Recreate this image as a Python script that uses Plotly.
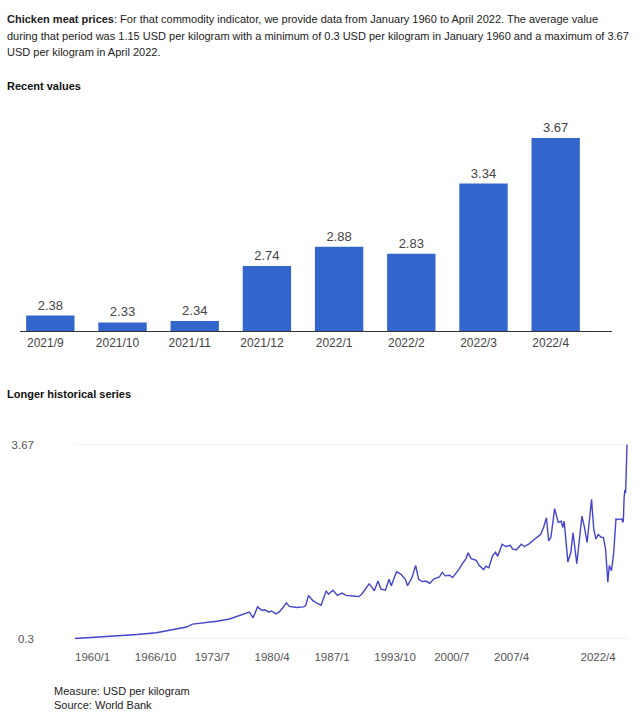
import plotly.graph_objects as go

# recent monthly values (bar chart)
recent_months = ['2021/9', '2021/10', '2021/11', '2021/12', '2022/1', '2022/2', '2022/3', '2022/4']
recent_values = [2.38, 2.33, 2.34, 2.74, 2.88, 2.83, 3.34, 3.67]

# longer historical series (USD per kilogram)
hist_dates = ['1960-01', '1963-03', '1967-01', '1969-03', '1971-06', '1972-08', '1973-04', '1974-06',
              '1976-01', '1977-06', '1979-01', '1979-09', '1980-02', '1980-08', '1981-02', '1981-06',
              '1981-11', '1982-03', '1982-09', '1983-01', '1983-06', '1983-11', '1984-03', '1985-01',
              '1985-10', '1986-01', '1986-05', '1986-11', '1987-05', '1987-10', '1988-05', '1988-08',
              '1989-02', '1989-08', '1990-02', '1990-08', '1991-05', '1992-01', '1992-05', '1993-03',
              '1993-07', '1993-10', '1994-03', '1994-07', '1995-01', '1995-06', '1995-09', '1996-04',
              '1996-10', '1997-04', '1997-07', '1998-01', '1998-06', '1998-10', '1999-03', '1999-08',
              '2000-01', '2000-07', '2001-02', '2001-06', '2001-10', '2002-04', '2002-08', '2003-01',
              '2003-05', '2003-09', '2004-02', '2004-05', '2004-09', '2005-04', '2005-08', '2006-02',
              '2006-05', '2006-09', '2007-02', '2007-06', '2007-09', '2008-03', '2008-08', '2009-02',
              '2009-05', '2009-10', '2010-05', '2010-09', '2011-04', '2012-02', '2012-07', '2012-11',
              '2013-03', '2013-06', '2013-09', '2014-02', '2014-07', '2014-11', '2015-01', '2015-03',
              '2015-08', '2015-12', '2016-03', '2016-08', '2017-03', '2017-06', '2017-10', '2018-04',
              '2018-07', '2018-10', '2019-01', '2019-05', '2019-08', '2019-11', '2020-02', '2020-04',
              '2020-07', '2020-10', '2021-01', '2021-03', '2021-06',
              '2021-09', '2021-10', '2021-11', '2021-12', '2022-01', '2022-02', '2022-03', '2022-04']
hist_values = [0.30, 0.33, 0.37, 0.40, 0.46, 0.50, 0.55, 0.57,
               0.60, 0.64, 0.72, 0.76, 0.66, 0.85, 0.79, 0.80,
               0.76, 0.78, 0.73, 0.76, 0.83, 0.92, 0.86, 0.84,
               0.85, 0.87, 1.05, 0.96, 0.91, 0.88, 1.13, 1.07,
               1.14, 1.05, 1.09, 1.05, 1.04, 1.03, 1.07, 1.25,
               1.19, 1.13, 1.30, 1.16, 1.14, 1.33, 1.22, 1.46,
               1.42, 1.33, 1.22, 1.36, 1.57, 1.33, 1.29, 1.30,
               1.26, 1.34, 1.37, 1.45, 1.39, 1.40, 1.36, 1.44,
               1.51, 1.60, 1.69, 1.79, 1.69, 1.66, 1.57, 1.50,
               1.56, 1.53, 1.74, 1.80, 1.73, 1.94, 1.90, 1.92,
               1.86, 1.84, 1.94, 1.90, 1.95, 2.06, 2.11, 2.23,
               2.40, 2.00, 2.06, 2.56, 2.32, 2.34, 2.23, 2.34,
               1.63, 1.80, 2.14, 1.60, 2.43, 2.26, 1.97, 2.72,
               2.20, 2.03, 2.11, 2.06, 2.06, 1.85, 1.28, 1.57,
               1.48, 1.80, 2.38, 2.37, 2.37,
               2.38, 2.33, 2.34, 2.74, 2.88, 2.83, 3.34, 3.67]

hist_tick_dates = ['1960-01-01', '1966-10-01', '1973-07-01', '1980-04-01', '1987-01-01',
                   '1993-10-01', '2000-07-01', '2007-04-01', '2017-01-01']
hist_tick_text = ['1960/1', '1966/10', '1973/7', '1980/4', '1987/1',
                  '1993/10', '2000/7', '2007/4', '2022/4']

W, H = 640, 716
FONT = 'Liberation Sans, Arial, sans-serif'


def px_y(y):
    return 1 - y / H


fig = go.Figure()

fig.add_trace(go.Bar(x=recent_months, y=recent_values,
                     marker=dict(color='#3366cc', line=dict(width=0)),
                     texttemplate='%{y:.2f}', textposition='outside',
                     textfont=dict(size=13, color='#444444'),
                     cliponaxis=False, xaxis='x', yaxis='y'))

fig.add_trace(go.Scatter(x=[d + '-01' for d in hist_dates], y=hist_values,
                         mode='lines', line=dict(color='#4444cc', width=1.4),
                         xaxis='x2', yaxis='y2'))

fig.update_layout(
    width=W, height=H,
    margin=dict(l=0, r=0, t=0, b=0),
    paper_bgcolor='white', plot_bgcolor='white',
    showlegend=False,
    font=dict(family=FONT, color='#222222'),
    bargap=0.33,
    xaxis=dict(type='category', domain=[20 / W, 612 / W], range=[-0.42, 7.78],
               showline=True, linecolor='#333333', linewidth=1, ticks='',
               showgrid=False, tickfont=dict(size=12, color='#444444'),
               ticklabelshift=-5, anchor='y'),
    yaxis=dict(domain=[px_y(331), px_y(120)], range=[2.265, 3.7775],
               showticklabels=False, showgrid=False, zeroline=False, anchor='x'),
    xaxis2=dict(type='date', domain=[75 / W, 628.5 / W], range=['1960-01-01', '2022-06-01'],
                tickvals=hist_tick_dates, ticktext=hist_tick_text,
                ticklabelposition='outside right', ticks='', showgrid=False,
                showline=False, zeroline=False, ticklabelstandoff=9,
                tickfont=dict(size=11.5, color='#555555'), anchor='y2'),
    yaxis2=dict(domain=[px_y(643.7), px_y(444.8)], range=[0.28, 3.69],
                tickvals=[0.3, 3.67], ticktext=['0.3', '3.67'],
                showgrid=True, gridcolor='#f0f0f0', zeroline=False,
                tickfont=dict(size=11.5, color='#555555'),
                ticklabelstandoff=40, anchor='x2'),
)

header = [
    '<b>Chicken meat prices</b>: For that commodity indicator, we provide data from January 1960 to April 2022. The average value',
    'during that period was 1.15 USD per kilogram with a minimum of 0.3 USD per kilogram in January 1960 and a maximum of 3.67',
    'USD per kilogram in April 2022.',
]
for i, line in enumerate(header):
    fig.add_annotation(text=line, x=5 / W, y=px_y(14 + 17 * i), xref='paper', yref='paper',
                       xanchor='left', yanchor='middle', showarrow=False,
                       font=dict(size=11, color='#222222'))

fig.add_annotation(text='<b>Recent values</b>', x=5 / W, y=px_y(82), xref='paper', yref='paper',
                   xanchor='left', yanchor='middle', showarrow=False,
                   font=dict(size=11, color='#111111'))
fig.add_annotation(text='<b>Longer historical series</b>', x=5 / W, y=px_y(395), xref='paper', yref='paper',
                   xanchor='left', yanchor='middle', showarrow=False,
                   font=dict(size=11, color='#111111'))

fig.add_annotation(text='Measure: USD per kilogram<br>Source: World Bank', x=52 / W, y=px_y(703),
                   xref='paper', yref='paper', xanchor='left', yanchor='middle', align='left',
                   showarrow=False, font=dict(size=11, color='#222222'))

# plotly's page keeps the browser's default 8px body margin; drop it so the figure fills the window
fig.write_html("out.html", config={'displayModeBar': False},
               post_script="document.body.style.margin='0px';")
